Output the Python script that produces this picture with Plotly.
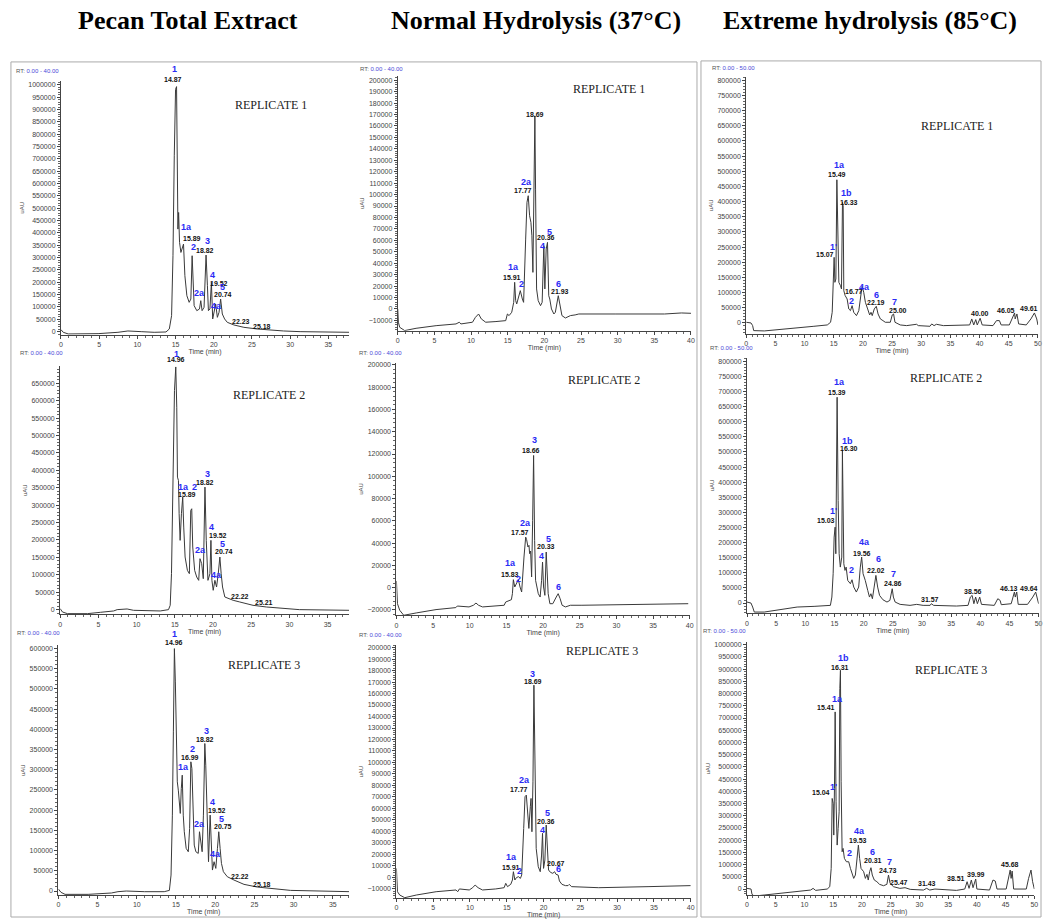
import plotly.graph_objects as go

# ---------------- DATA ----------------
# Column titles and replicate names
col_titles = ["Pecan Total Extract", "Normal Hydrolysis (37°C)", "Extreme hydrolysis (85°C)"]
replicates = ["REPLICATE 1", "REPLICATE 2", "REPLICATE 3"]
rt_windows = ["0.00 - 40.00", "0.00 - 40.00", "0.00 - 50.00"]

# Panel 1: Pecan total extract, replicate 1  (time min, intensity uAU)
p1_t = [0, 0.3, 0.95, 4.86, 7.46, 8.76, 10.5, 12.2, 13.75, 14.18,
        14.48, 14.66, 14.83, 15.0, 15.13, 15.26, 15.31, 15.4, 15.52, 15.7,
        16.04, 16.22, 16.48, 16.78, 17.0, 17.17, 17.3, 17.43, 17.78, 18.13,
        18.3, 18.47, 18.73, 18.99, 19.17, 19.3, 19.5, 19.69, 19.86, 20.03,
        20.25, 20.47, 20.69, 20.9, 21.12, 21.42, 21.77, 22.64, 23.94, 25.67,
        26.97, 29.14, 31.3, 37.8]
p1_i = [8100, -2700, -9400, -8100, -2700, 2700, 0, -2700, -1350, 10800,
        64800, 307700, 712500, 982000, 993000, 712500, 415600, 483000, 361700, 321000,
        355000, 226700, 145700, 118750, 132000, 307700, 226700, 105300, 85000, 91800,
        125500, 85000, 98500, 310400, 186200, 85000, 91800, 199700, 51300, 78300,
        112000, 58000, 78300, 132000, 71500, 51300, 37800, 27000, 17500, 10800,
        6700, 2700, 0, -2700]
p1_lab = [("1", "b", 14.83, 1063000), ("14.87", "k", 14.6, 1023000),
          ("1a", "b", 16.43, 422400), ("15.89", "k", 17.2, 377900),
          ("2", "b", 17.35, 341400), ("3", "b", 19.17, 368400),
          ("18.82", "k", 18.82, 328000), ("4", "b", 19.86, 229400),
          ("19.52", "k", 20.73, 195700), ("5", "b", 21.1, 179500),
          ("20.74", "k", 21.25, 152500), ("2a", "b", 18.13, 156500),
          ("4a", "b", 20.38, 105300), ("22.23", "k", 23.5, 41800),
          ("25.18", "k", 26.32, 21600)]

# Panel 2: Normal hydrolysis, replicate 1
p2_t = [0, 0.09, 0.27, 0.95, 2.5, 5.24, 7.95, 8.4, 8.62, 10.2,
        10.6, 11.03, 11.4, 12.0, 13.4, 14.73, 14.96, 15.19, 15.55, 15.82,
        15.95, 16.09, 16.23, 16.45, 16.72, 17.0, 17.17, 17.45, 17.63, 17.8,
        17.99, 18.17, 18.3, 18.44, 18.58, 18.71, 18.8, 18.94, 19.16, 19.48,
        19.7, 19.93, 20.07, 20.25, 20.43, 20.6, 20.74, 20.97, 21.3, 21.5,
        21.9, 22.1, 22.4, 22.87, 23.55, 24.2, 24.7, 29.65, 36.4, 38.7,
        40.0]
p2_i = [0, -11600, -16000, -18900, -16900, -14600, -13100, -11600, -13100, -11600,
        -7300, -4400, -8700, -11600, -11000, -10200, -4400, -5800, -2900, 5800,
        23300, 7300, 4400, 10200, 16000, 8700, 5800, 61100, 93200, 99000,
        81500, 75700, 64000, 32000, 104800, 168800, 104800, 17500, 7300, 2900,
        5800, 55300, 17500, 52400, 58200, 11600, 8700, 0, -4400, -2900,
        11600, 5800, -5800, -7900, -5800, -5200, -4400, -4400, -4400, -3500,
        -3800]
p2_lab = [("1a", "b", 15.73, 36400), ("15.91", "k", 15.64, 27700),
          ("2", "b", 16.9, 21800), ("2a", "b", 17.58, 111200),
          ("17.77", "k", 17.13, 103300), ("18.69", "k", 18.67, 170300),
          ("4", "b", 19.8, 55000), ("20.36", "k", 20.16, 62600),
          ("5", "b", 20.75, 67000), ("6", "b", 21.97, 21800),
          ("21.93", "k", 22.19, 15400)]

# Panel 3: Extreme hydrolysis, replicate 1
p3_t = [0, 0.82, 1.1, 1.28, 3.1, 5.94, 8.78, 11.6, 13.9, 14.46,
        14.74, 14.9, 15.07, 15.2, 15.37, 15.54, 15.71, 15.88, 16.16, 16.33,
        16.5, 16.62, 16.73, 16.96, 17.3, 17.58, 17.87, 18.15, 18.43, 18.9,
        19.3, 19.57, 19.86, 20.14, 20.43, 20.82, 21.16, 21.39, 21.6, 21.95,
        22.3, 22.6, 23.0, 23.44, 23.84, 24.7, 25.03, 25.26, 25.5, 26.4,
        27.5, 29.2, 29.5, 31.5, 31.8, 32.2, 32.6, 33.8, 37.2, 38.3,
        38.66, 39.0, 39.35, 39.6, 40.1, 40.45, 42.3, 42.9, 43.4, 43.7,
        45.1, 45.7, 46.0, 46.1, 46.4, 46.7, 48.0, 48.8, 49.4, 49.8,
        50.0]
p3_i = [2200, 0, -8800, -25200, -26300, -21900, -17600, -11000, -6600, 2200,
        35100, 166800, 216200, 133900, 144900, 471900, 265600, 133900, 122900, 111900,
        397300, 386300, 106400, 90000, 79000, 46100, 40600, 57100, 35100, 24100,
        40600, 90000, 120700, 101000, 68000, 46100, 26300, 35100, 24100, 46100,
        54900, 29600, 13200, 7700, 2200, 2200, 26300, 29600, 2200, -6600,
        -8800, -4400, -8800, -11000, -3300, -8800, -4400, -8800, -8800, -6600,
        13200, -6600, 11000, -6600, 15400, -6600, -8800, 7700, 7700, -6600,
        -6600, 18700, 32900, 13200, 29600, -3300, -6600, 13200, 32900, 13200,
        -6600]
p3_lab = [("1a", "b", 16.0, 521300), ("15.49", "k", 15.48, 490500),
          ("1b", "b", 17.19, 426900), ("16.33", "k", 17.6, 397300),
          ("1'", "b", 14.9, 251300), ("15.07", "k", 13.44, 225000),
          ("16.77", "k", 18.4, 103200), ("2", "b", 17.98, 73500),
          ("4a", "b", 20.26, 117400), ("6", "b", 22.3, 92200),
          ("22.19", "k", 22.3, 65800), ("7", "b", 25.5, 68000),
          ("25.00", "k", 25.99, 40600), ("40.00", "k", 40.1, 31800),
          ("46.05", "k", 44.6, 40600), ("49.61", "k", 48.5, 48300)]

# Panel 4: Pecan total extract, replicate 2
p4_t = [0, 0.3, 0.95, 3.56, 5.3, 7.0, 7.46, 8.76, 9.6, 11.36,
        13.1, 14.18, 14.4, 14.57, 14.74, 14.96, 15.13, 15.26, 15.35, 15.48,
        15.57, 15.7, 15.87, 16.04, 16.17, 16.35, 16.65, 16.91, 17.09, 17.22,
        17.35, 17.6, 17.87, 18.13, 18.3, 18.52, 18.73, 18.95, 19.12, 19.34,
        19.6, 19.73, 19.86, 20.03, 20.25, 20.47, 20.69, 20.9, 21.07, 21.25,
        21.55, 22.64, 23.5, 25.24, 27.0, 29.14, 31.3, 37.8]
p4_i = [2900, -6700, -11500, -11500, -7600, -3800, 0, 1900, -1900, -3800,
        -3800, 0, 12400, 103300, 390100, 629200, 697000, 581400, 380600, 371000,
        275400, 198900, 275400, 323200, 237100, 151100, 112800, 103300, 284900, 289700,
        179800, 112800, 93700, 84100, 146300, 132000, 88900, 351900, 198900, 84100,
        103300, 198900, 84100, 55500, 84100, 65000, 103300, 151100, 103300, 65000,
        36300, 26800, 22000, 12400, 7600, 2900, 0, -1900]
p4_lab = [("1", "b", 15.18, 734400), ("14.96", "k", 15.18, 717200),
          ("1a", "b", 16.2, 351900), ("15.89", "k", 16.56, 329900),
          ("2", "b", 17.56, 351900), ("3", "b", 19.25, 390100),
          ("18.82", "k", 19.0, 366200), ("4", "b", 19.86, 237100),
          ("19.52", "k", 20.68, 213200), ("5", "b", 21.3, 189300),
          ("20.74", "k", 21.47, 168300), ("2a", "b", 18.43, 170200),
          ("4a", "b", 20.47, 98500), ("22.22", "k", 23.6, 38200),
          ("25.21", "k", 26.67, 19100)]

# Panel 5: Normal hydrolysis, replicate 2
p5_t = [0, 0.14, 0.45, 1.0, 2.7, 5.4, 8.1, 8.3, 9.9, 10.5,
        10.85, 11.2, 11.75, 13.56, 14.7, 14.9, 15.37, 15.68, 15.82, 15.95,
        16.14, 16.36, 16.63, 16.86, 17.08, 17.4, 17.63, 17.76, 17.94, 18.08,
        18.17, 18.3, 18.44, 18.58, 18.71, 18.85, 18.98, 19.35, 19.6, 19.8,
        19.93, 20.07, 20.25, 20.43, 20.56, 20.7, 20.93, 21.33, 21.8, 22.06,
        22.33, 22.6, 23.05, 23.73, 25.3, 32.1, 39.8]
p5_i = [6000, -14400, -20300, -24800, -22700, -19700, -17900, -16500, -17300, -15800,
        -13800, -15800, -17300, -16700, -15800, -12900, -11400, -10800, -5400, 7200,
        600, 3600, 7200, 600, -3900, 27500, 45400, 43100, 36500, 38000,
        30500, 32900, 9600, 60400, 118700, 42500, 6600, -5400, -8400, 6600,
        23000, 600, -6900, 32000, 12600, -5400, -14400, -14400, -8400, -5400,
        -9900, -15800, -17300, -15800, -15800, -15200, -14400]
p5_lab = [("1a", "b", 15.6, 22100), ("15.83", "k", 15.46, 11700),
          ("2", "b", 16.63, 8100), ("2a", "b", 17.63, 58000),
          ("17.57", "k", 16.81, 49900), ("3", "b", 18.85, 132800),
          ("18.66", "k", 18.4, 123200), ("4", "b", 19.8, 28100),
          ("20.33", "k", 20.34, 37100), ("5", "b", 20.7, 43400),
          ("6", "b", 22.06, 600)]

# Panel 6: Extreme hydrolysis, replicate 2
p6_t = [0, 0.68, 0.97, 1.25, 2.95, 5.8, 8.6, 11.5, 14.3, 14.55,
        14.77, 14.94, 15.11, 15.23, 15.34, 15.45, 15.63, 15.8, 16.0, 16.25,
        16.36, 16.48, 16.6, 16.8, 17.0, 17.27, 17.73, 18.0, 18.3, 18.75,
        19.15, 19.43, 19.66, 19.9, 20.28, 20.7, 21.0, 21.25, 21.5, 21.8,
        22.1, 22.4, 22.73, 23.3, 24.0, 24.5, 24.9, 25.1, 25.4, 26.25,
        27.95, 29.1, 30.2, 31.4, 31.6, 32.0, 35.9, 37.9, 38.3, 38.6,
        38.9, 39.2, 39.5, 39.9, 40.2, 42.4, 43.0, 43.4, 43.6, 45.3,
        45.6, 45.85, 46.0, 46.25, 46.5, 48.1, 49.0, 49.5, 50.0]
p6_i = [3300, 0, -13200, -29800, -29800, -22000, -13200, -11000, -7700, 19800,
        97000, 218200, 251300, 163100, 339400, 681000, 339400, 163100, 119000, 152100,
        504700, 372500, 130000, 108000, 119000, 74900, 63900, 77100, 52900, 36400,
        52900, 119000, 152100, 97000, 74900, 41900, 19800, 30900, 14300, 52900,
        91500, 52900, 25300, 11000, 3300, 8800, 47400, 19800, 3300, -4400,
        -7700, -4400, -7700, -7700, -2200, -7700, -9900, -7700, 19800, 25300,
        -2200, 19800, -2200, 19800, -4400, -7700, 14300, 8800, -5500, -2200,
        25300, 36400, 19800, 36400, -4400, -4400, 19800, 36400, -2200]
p6_lab = [("1a", "b", 15.9, 730600), ("15.39", "k", 15.45, 695400),
          ("1b", "b", 17.16, 537800), ("16.30", "k", 17.44, 510200),
          ("1'", "b", 14.9, 303100), ("15.03", "k", 13.47, 273300),
          ("4a", "b", 20.2, 201700), ("19.56", "k", 19.7, 165300),
          ("2", "b", 18.0, 108000), ("6", "b", 22.56, 144400),
          ("22.02", "k", 22.1, 108000), ("7", "b", 25.1, 97000),
          ("24.86", "k", 25.1, 63900), ("31.57", "k", 31.4, 11000),
          ("38.56", "k", 38.75, 39700), ("46.13", "k", 44.9, 47400),
          ("49.64", "k", 48.4, 47400)]

# Panel 7: Pecan total extract, replicate 3
p7_t = [0, 0.34, 0.85, 3.8, 6.76, 7.6, 8.66, 9.7, 11.0, 13.5,
        14.16, 14.37, 14.54, 14.67, 14.8, 14.92, 15.05, 15.17, 15.3, 15.43,
        15.55, 15.68, 15.8, 15.93, 16.06, 16.3, 16.57, 16.74, 16.9, 17.03,
        17.2, 17.33, 17.54, 17.84, 18.0, 18.17, 18.34, 18.5, 18.68, 18.8,
        18.98, 19.15, 19.36, 19.48, 19.65, 19.86, 20.08, 20.29, 20.46, 20.63,
        20.8, 21.05, 21.55, 22.4, 23.67, 25.36, 27.5, 29.6, 37.2]
p7_i = [4900, -3300, -8200, -8200, -4900, -1600, 0, -800, -1600, -1600,
        1600, 39500, 187800, 393800, 599800, 517400, 410300, 270200, 249600, 212600,
        192000, 253800, 286700, 187800, 146700, 105500, 97200, 154900, 319700, 303200,
        171400, 113700, 97200, 93100, 146700, 121900, 97200, 187800, 365000, 311400,
        154900, 72500, 187800, 105500, 51900, 72500, 56000, 105500, 146700, 105500,
        68400, 47800, 35400, 27200, 16500, 9900, 4900, 1600, -1600]
p7_lab = [("1", "b", 14.8, 636900), ("14.96", "k", 14.8, 614600),
          ("1a", "b", 15.9, 307300), ("2", "b", 17.16, 351000),
          ("16.99", "k", 16.82, 329600), ("3", "b", 18.85, 396300),
          ("18.82", "k", 18.72, 374900), ("4", "b", 19.6, 220800),
          ("19.52", "k", 20.29, 200200), ("5", "b", 20.8, 178000),
          ("20.75", "k", 21.05, 159000), ("2a", "b", 17.96, 165600),
          ("4a", "b", 20.0, 90600), ("22.22", "k", 23.12, 35400),
          ("25.18", "k", 26.0, 16500)]

# Panel 8: Normal hydrolysis, replicate 3
p8_t = [0, 0.14, 0.45, 1.13, 2.7, 5.4, 8.1, 8.33, 8.56, 9.9,
        10.36, 10.7, 11.1, 11.7, 13.5, 14.64, 14.86, 15.1, 15.54, 15.77,
        15.9, 16.1, 16.3, 16.58, 16.85, 17.03, 17.3, 17.48, 17.66, 17.9,
        18.0, 18.2, 18.3, 18.42, 18.56, 18.69, 18.83, 19.0, 19.28, 19.55,
        19.73, 19.86, 20.0, 20.18, 20.36, 20.54, 20.68, 20.95, 21.26, 21.5,
        21.7, 21.98, 22.16, 22.5, 22.97, 23.33, 23.5, 23.8, 27.5, 34.2,
        40.0]
p8_i = [7800, -12500, -15400, -17700, -15400, -12500, -11000, -12500, -10100, -11000,
        -9000, -6700, -9000, -11000, -10100, -9000, -5200, -8100, -6100, -2300,
        4900, -2300, -300, 600, -900, 2000, 42600, 70200, 71600, 54200,
        42600, 61500, 68700, 39700, 83200, 167300, 97700, 25200, 9300, 4900,
        19400, 38300, 7800, 15100, 45500, 25200, 6400, 4300, 3500, 4900,
        2600, 2000, -3200, -6100, -7200, -7200, -6100, -8100, -9000, -8100,
        -7200]
p8_lab = [("1a", "b", 15.63, 17400), ("15.91", "k", 15.54, 8700),
          ("2", "b", 16.76, 5500), ("2a", "b", 17.43, 84700),
          ("17.77", "k", 16.67, 76800), ("3", "b", 18.56, 177400),
          ("18.69", "k", 18.6, 170200), ("4", "b", 19.82, 41200),
          ("20.36", "k", 20.27, 49000), ("5", "b", 20.59, 55700),
          ("20.67", "k", 21.7, 12200), ("6", "b", 21.98, 7200)]

# Panel 9: Extreme hydrolysis, replicate 3
p9_t = [0, 0.7, 0.87, 1.27, 3.0, 5.9, 8.77, 11.07, 11.5, 11.94,
        13.96, 14.4, 14.65, 14.82, 15.0, 15.1, 15.22, 15.34, 15.5, 15.69,
        15.86, 16.03, 16.15, 16.26, 16.38, 16.55, 16.72, 16.95, 17.3, 17.7,
        18.0, 18.3, 18.57, 18.86, 19.15, 19.38, 19.6, 19.84, 20.3, 20.6,
        20.88, 21.1, 21.34, 21.57, 21.8, 22.15, 22.6, 23.07, 23.76, 24.34,
        24.62, 24.9, 25.5, 26.6, 27.5, 28.4, 30.7, 31.26, 31.8, 32.7,
        36.45, 37.9, 38.3, 38.64, 39.04, 39.33, 39.8, 40.0, 42.2, 42.8,
        43.2, 43.5, 45.1, 45.56, 45.8, 45.96, 46.14, 46.4, 48.6, 49.0,
        49.42, 49.7, 50.0]
p9_i = [2700, 0, -21800, -28600, -24500, -17700, -8200, -4100, 2700, -5500,
        0, 9500, 84500, 370700, 350200, 220800, 411600, 725000, 357000, 179900,
        248000, 316200, 820400, 895300, 438800, 152600, 166300, 125400, 111700, 111700,
        84500, 57200, 43600, 57200, 139000, 179900, 125400, 84500, 70900, 43600,
        60000, 36800, 70900, 87200, 57200, 36800, 30000, 19100, 13600, 19100,
        57200, 23200, 9500, 2700, 5500, -1400, -4100, 2700, -4100, 0,
        -5500, 0, 30000, 2700, 36800, 5500, 40900, 0, -4100, 36800,
        32700, 0, 0, 43600, 77700, 43600, 73600, 0, 0, 43600,
        77700, 30000, 0]
p9_lab = [("1b", "b", 16.72, 945800), ("16.31", "k", 16.15, 906300),
          ("1a", "b", 15.69, 776800), ("15.41", "k", 13.8, 744100),
          ("1'", "b", 15.0, 418400), ("15.04", "k", 12.9, 395200),
          ("4a", "b", 19.6, 237100), ("19.53", "k", 19.3, 197600),
          ("2", "b", 17.88, 148500), ("6", "b", 21.9, 152600),
          ("20.31", "k", 21.86, 115800), ("7", "b", 24.74, 111700),
          ("24.73", "k", 24.6, 75000), ("25.47", "k", 26.5, 25900),
          ("31.43", "k", 31.26, 23200), ("38.51", "k", 36.3, 43600),
          ("39.99", "k", 39.8, 61300), ("45.68", "k", 45.7, 100800)]

series = [(p1_t, p1_i, p1_lab), (p2_t, p2_i, p2_lab), (p3_t, p3_i, p3_lab),
          (p4_t, p4_i, p4_lab), (p5_t, p5_i, p5_lab), (p6_t, p6_i, p6_lab),
          (p7_t, p7_i, p7_lab), (p8_t, p8_i, p8_lab), (p9_t, p9_i, p9_lab)]

# ---------------- LAYOUT (pixel geometry of each panel) ----------------
W, H = 1047, 919
# L, R, T, B = plot area in px; y0 = pixel row of zero; k = px per uAU
geom = [
    dict(L=59.3, R=349, T=80, B=334, y0=331.0, k=2.47e-4, xmax=37.7, dt=50000,
         rt=(12, 70), rep=(271, 104)),
    dict(L=398, R=693.1, T=75, B=330, y0=308.3, k=1.145e-3, xmax=40.02, dt=10000,
         rt=(358, 68), rep=(611, 88)),
    dict(L=748.5, R=1042, T=76, B=333, y0=322.3, k=3.0375e-4, xmax=50.02, dt=50000,
         rt=(712, 67), rep=(961, 125)),
    dict(L=58.5, R=349, T=365.6, B=614, y0=609.3, k=3.486e-4, xmax=37.8, dt=50000,
         rt=(16, 352), rep=(269, 394)),
    dict(L=396.7, R=691.8, T=362, B=615, y0=587.3, k=1.115e-3, xmax=40.02, dt=20000,
         rt=(357, 352), rep=(605, 379)),
    dict(L=749.3, R=1042.7, T=357, B=613, y0=602.7, k=3.025e-4, xmax=50.02, dt=50000,
         rt=(710, 347), rep=(949, 377)),
    dict(L=56.7, R=349, T=645, B=895, y0=891.0, k=4.046e-4, xmax=37.07, dt=50000,
         rt=(13, 633), rep=(264, 665)),
    dict(L=396.7, R=692.8, T=645, B=898, y0=877.3, k=1.15e-3, xmax=40.02, dt=10000,
         rt=(357, 635), rep=(603, 651)),
    dict(L=749.3, R=1038.4, T=642, B=895, y0=889.0, k=2.446e-4, xmax=50.02, dt=50000,
         rt=(703, 631), rep=(954, 670)),
]

BLUE = "#2a2af5"
AXC = "#444444"


def px(x):
    return x / W


def py(y):
    return 1 - y / H


fig = go.Figure()
annotations = []
layout_axes = {}

for n, (g, (t, inten, labs)) in enumerate(zip(geom, series), start=1):
    assert len(t) == len(inten), (n, len(t), len(inten))
    xs = "" if n == 1 else str(n)
    yr = [(g["y0"] - g["B"]) / g["k"], (g["y0"] - g["T"]) / g["k"]]
    fig.add_trace(go.Scatter(x=t, y=inten, mode="lines",
                             line=dict(color="#3a3a3a", width=1),
                             xaxis="x" + xs, yaxis="y" + xs,
                             showlegend=False, hoverinfo="skip"))
    layout_axes["xaxis" + xs] = dict(
        domain=[px(g["L"]), px(g["R"])], range=[0, g["xmax"]], anchor="y" + xs,
        showline=True, linecolor=AXC, linewidth=1, showgrid=False, zeroline=False,
        ticks="outside", ticklen=3, tickcolor=AXC, tick0=0, dtick=5,
        minor=dict(ticks="outside", ticklen=2, dtick=1, tickcolor="#666666"),
        tickfont=dict(size=7, color=AXC, family="Liberation Sans"),
        title=dict(text="Time (min)", font=dict(size=7, color=AXC, family="Liberation Sans"),
                   standoff=1),
    )
    layout_axes["yaxis" + xs] = dict(
        domain=[py(g["B"]), py(g["T"])], range=yr, anchor="x" + xs,
        showline=True, linecolor=AXC, linewidth=1, showgrid=False, zeroline=False,
        ticks="outside", ticklen=3, tickcolor=AXC, tick0=0, dtick=g["dt"],
        tickformat="d",
        minor=dict(ticks="outside", ticklen=2, dtick=g["dt"] / 5, tickcolor="#666666"),
        tickfont=dict(size=7, color=AXC, family="Liberation Sans"),
        title=dict(text="uAU", font=dict(size=6, color=AXC, family="Liberation Sans"),
                   standoff=3),
    )
    # peak labels
    for txt, c, lx, ly in labs:
        ya = min(max(ly, yr[0]), yr[1])
        shift = (ly - ya) * g["k"]
        if c == "b":
            font = dict(size=9, color=BLUE, family="Liberation Sans")
        else:
            font = dict(size=7, color="#111111", family="Liberation Sans")
        annotations.append(dict(x=lx, y=ya, xref="x" + xs, yref="y" + xs, yshift=shift,
                                text="<b>" + txt + "</b>", showarrow=False, font=font,
                                xanchor="center", yanchor="middle"))
    col = (n - 1) % 3
    row = (n - 1) // 3
    annotations.append(dict(
        x=px(g["rt"][0]), y=py(g["rt"][1]), xref="paper", yref="paper",
        text="RT: <span style='color:%s'>%s</span>" % ("#4a4ad8", rt_windows[col]),
        showarrow=False, xanchor="left", yanchor="middle",
        font=dict(size=6, color="#555555", family="Liberation Sans")))
    annotations.append(dict(
        x=px(g["rep"][0]), y=py(g["rep"][1]), xref="paper", yref="paper",
        text=replicates[row], showarrow=False, xanchor="center", yanchor="middle",
        font=dict(size=12, color="#222222", family="Liberation Serif")))

for cx, title in zip([187, 537, 873], col_titles):
    annotations.append(dict(x=px(cx), y=py(20), xref="paper", yref="paper",
                            text="<b>" + title + "</b>", showarrow=False,
                            xanchor="center", yanchor="middle",
                            font=dict(size=26, color="#000000", family="Liberation Serif")))

shapes = [
    dict(type="rect", xref="paper", yref="paper", x0=px(9), x1=px(699), y0=py(917), y1=py(61),
         line=dict(color="#aaaaaa", width=1)),
    dict(type="rect", xref="paper", yref="paper", x0=px(703), x1=px(1045), y0=py(917), y1=py(60),
         line=dict(color="#aaaaaa", width=1)),
]

fig.update_layout(width=W, height=H, margin=dict(l=0, r=0, t=0, b=0),
                  paper_bgcolor="white", plot_bgcolor="white",
                  annotations=annotations, shapes=shapes, **layout_axes)

fig.write_html("out.html")
